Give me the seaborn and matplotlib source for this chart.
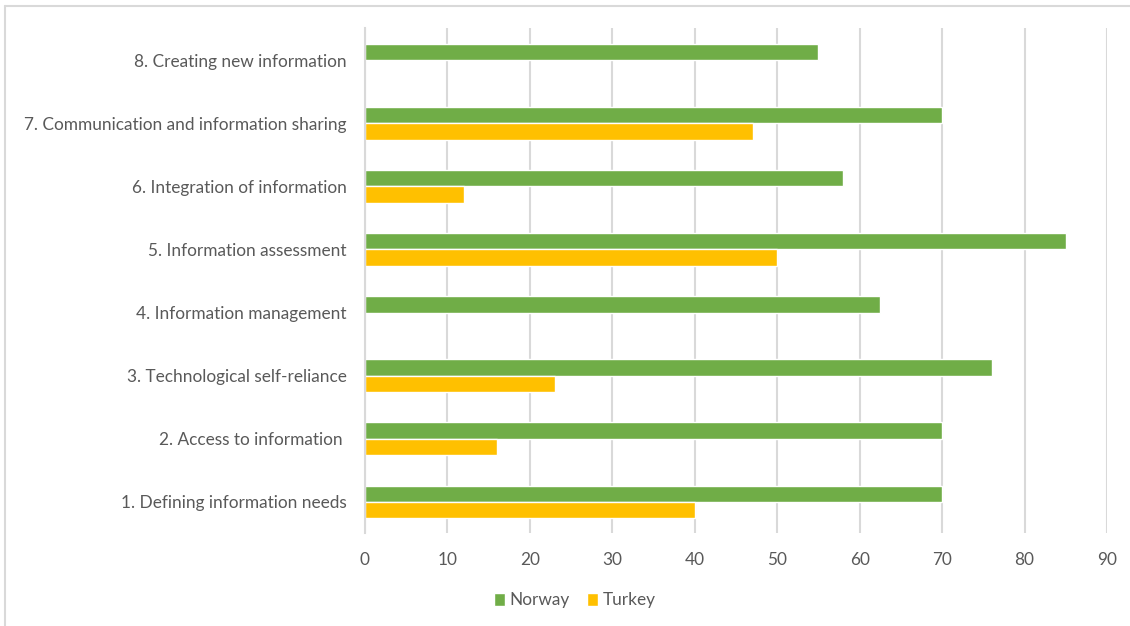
import numpy as np
import pandas as pd
import matplotlib
matplotlib.use("Agg")
import matplotlib.pyplot as plt
from matplotlib.lines import Line2D
import seaborn as sns

# 데이터
categories = [
    "8. Creating new information",
    "7. Communication and information sharing",
    "6. Integration of information",
    "5. Information assessment",
    "4. Information management",
    "3. Technological self-reliance",
    "2. Access to information ",
    "1. Defining information needs",
]
norway = [55, 70, 58, 85, 62.5, 76, 70, 70]
turkey = [np.nan, 47, 12, 50, np.nan, 23, 16, 40]
countries = ["Norway", "Turkey"]
colors = ["#70AD47", "#FFC000"]

df = pd.DataFrame({
    "category": categories * 2,
    "value": norway + turkey,
    "country": ["Norway"] * len(categories) + ["Turkey"] * len(categories),
})

sns.set_style("white")
plt.rcParams["font.family"] = ["Lato", "DejaVu Sans"]
text_col = "#595959"
fs = 12.4

fig = plt.figure(figsize=(11.3, 6.26), dpi=100)
ax = fig.add_axes([0.323, 0.1478, 0.9797 - 0.323, 0.9545 - 0.1478])

sns.barplot(data=df, y="category", x="value", hue="country", order=categories,
            hue_order=countries, palette=colors, width=0.52, orient="h",
            saturation=1, ax=ax, legend=True)

ax.set_xlim(0, 90)
ax.set_xticks(range(0, 91, 10))
ax.xaxis.grid(True, color="#D9D9D9", linewidth=1.5)
ax.set_axisbelow(True)
for s in ["top", "right", "bottom"]:
    ax.spines[s].set_visible(False)
ax.spines["left"].set_color("#D9D9D9")
ax.spines["left"].set_linewidth(1.5)
ax.set_xlabel("")
ax.set_ylabel("")
ax.tick_params(axis="x", length=0, pad=13, labelsize=fs, labelcolor=text_col)
ax.tick_params(axis="y", length=0, pad=13, labelsize=fs, labelcolor=text_col)

ax.legend(loc="center", bbox_to_anchor=(575 / 1130, 0.041), bbox_transform=fig.transFigure,
          ncol=2, frameon=False, handlelength=0.6, handleheight=0.8,
          handletextpad=0.3, columnspacing=1.0, fontsize=fs, labelcolor=text_col)

# 바깥 테두리
fig.add_artist(Line2D([5 / 1130, 1], [1 - 6 / 626, 1 - 6 / 626], color="#D9D9D9", lw=1.5))
fig.add_artist(Line2D([5 / 1130, 5 / 1130], [0, 1 - 6 / 626], color="#D9D9D9", lw=1.5))

fig.savefig("out.png", dpi=100)
